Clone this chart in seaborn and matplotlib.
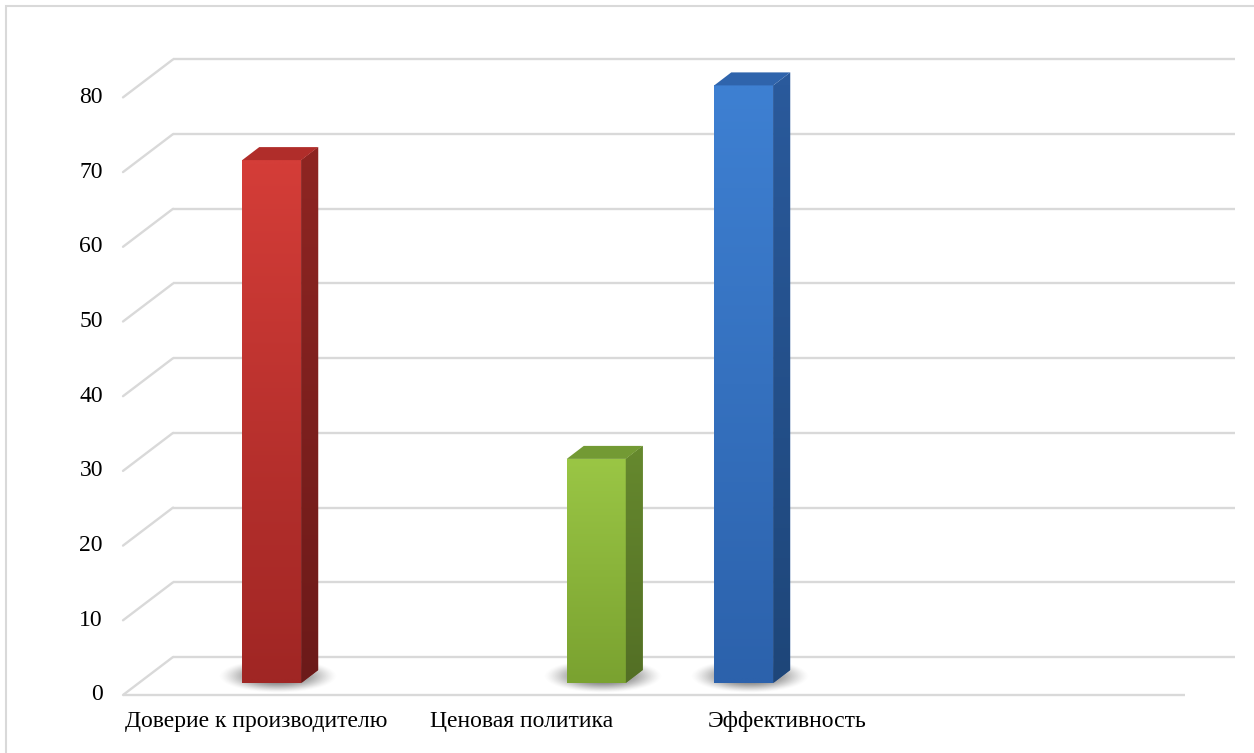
import numpy as np
import pandas as pd
import matplotlib
matplotlib.use("Agg")
import matplotlib.pyplot as plt
import seaborn as sns
from matplotlib.patches import Polygon, Rectangle
from matplotlib.colors import to_rgb

# ---- data -------------------------------------------------------------
categories = ["Доверие к производителю", "Ценовая политика", "Эффективность", ""]
series = ["Ряд 1", "Ряд 2", "Ряд 3"]
bar_category = ["Доверие к производителю", "Ценовая политика", "Эффективность"]
bar_series = ["Ряд 2", "Ряд 3", "Ряд 1"]
bar_values = [70, 30, 80]
y_ticks = [0, 10, 20, 30, 40, 50, 60, 70, 80]

# ---- colours per series (front mid, front top/bottom, side top/bottom, top face)
front_mid = {"Ряд 1": "#3570BE", "Ряд 2": "#BD3230", "Ряд 3": "#8BB63B"}
front_top = {"Ряд 1": "#3E80D2", "Ряд 2": "#D43D38", "Ряд 3": "#9AC645"}
front_bot = {"Ряд 1": "#2C62AC", "Ряд 2": "#A02624", "Ряд 3": "#7AA230"}
side_top = {"Ряд 1": "#2A5A9C", "Ряд 2": "#8E2522", "Ряд 3": "#66892E"}
side_bot = {"Ряд 1": "#1E4679", "Ряд 2": "#6C1A19", "Ряд 3": "#536F25"}
top_face = {"Ряд 1": "#2F64AC", "Ряд 2": "#B02D2A", "Ряд 3": "#739A34"}
GRID = "#D9D9D9"

sns.set_theme(style="white")
plt.rcParams["font.family"] = ["Liberation Serif", "DejaVu Serif"]
FS = 17

W, H = 1254, 753
fig = plt.figure(figsize=(W / 100, H / 100), dpi=100)
fig.patch.set_facecolor("white")

# axes = plane of the bar front faces
x0_px, x1_px = 139, 1201
y0_px, ytop_px = 683, 85.4
ax = fig.add_axes([x0_px / W, 1 - y0_px / H, (x1_px - x0_px) / W, (y0_px - ytop_px) / H])

df = pd.DataFrame({"category": bar_category, "series": bar_series, "value": bar_values})
sns.barplot(data=df, x="category", y="value", hue="series", order=categories,
            hue_order=series, palette=front_mid, width=2 / 3, dodge=True,
            saturation=1, legend=False, ax=ax, zorder=3, linewidth=0)

XL, YL = (-0.5, 3.5), (0, 80)
ax.set_xlim(*XL)
ax.set_ylim(*YL)
ax.axis("off")

# pixel -> data conversion
sx = (XL[1] - XL[0]) / (x1_px - x0_px)
sy = (YL[1] - YL[0]) / (y0_px - ytop_px)


def off(p):
    return p[0] * sx, p[1] * sy


FRONT = off((-16, -12))   # floor front edge relative to bar plane
BACK = off((34, 26))      # back wall relative to bar plane
DEPTH = off((17, 13))     # bar depth

# ---- walls, floor and value labels -----------------------------------
lw = 1.7
for v in y_ticks:
    ax.plot([XL[0] + BACK[0], XL[1] + BACK[0]], [v + BACK[1]] * 2,
            color=GRID, lw=lw, clip_on=False, zorder=1, solid_capstyle="butt")
    ax.plot([XL[0] + FRONT[0], XL[0] + BACK[0]], [v + FRONT[1], v + BACK[1]],
            color=GRID, lw=lw, clip_on=False, zorder=1)
    ax.text(XL[0] + FRONT[0] - 20 * sx, v + FRONT[1], str(v), ha="right",
            va="center", fontsize=FS, color="black", clip_on=False)
ax.plot([XL[0] + FRONT[0], XL[1] + FRONT[0]], [FRONT[1]] * 2,
        color=GRID, lw=lw, clip_on=False, zorder=1, solid_capstyle="butt")

for i, name in enumerate(categories):
    if name:
        ax.text(i + FRONT[0], FRONT[1] - 27 * sy, name, ha="center", va="center",
                fontsize=FS, color="black", clip_on=False)


def vgrad(c_top, c_bot, n=64):
    a, b = np.array(to_rgb(c_top)), np.array(to_rgb(c_bot))
    t = np.linspace(0, 1, n)[:, None]
    return (a * (1 - t) + b * t)[:, None, :]


# ---- 3-D bar faces ----------------------------------------------------
lookup = {tuple(np.round(to_rgb(c), 3)): s for s, c in front_mid.items()}
dx, dy = DEPTH
for p in list(ax.patches):
    h = p.get_height()
    if not np.isfinite(h) or h <= 0:
        continue
    s = lookup[tuple(np.round(p.get_facecolor()[:3], 3))]
    x, w = p.get_x(), p.get_width()

    # soft floor shadow
    n = 160
    u = np.linspace(-1, 1, n)
    U, V = np.meshgrid(u, u)
    r2 = U ** 2 + V ** 2
    alpha = 0.85 * np.clip(1 - r2, 0, 1) ** 1.6
    img = np.zeros((n, n, 4))
    img[..., :3] = 0.30
    img[..., 3] = alpha
    cx, cy = x + w / 2 + dx / 2 - 2 * sx, dy / 2
    hw, hh = 60 * sx, 17 * sy
    ax.imshow(img, extent=[cx - hw, cx + hw, cy - hh, cy + hh], aspect="auto",
              zorder=2, interpolation="bilinear", clip_on=False)

    # front face gradient
    im = ax.imshow(vgrad(front_top[s], front_bot[s]), extent=[x, x + w, 0, h],
                   aspect="auto", zorder=3.1, interpolation="bilinear")
    im.set_clip_path(p)

    # side face
    side = Polygon([(x + w, 0), (x + w + dx, dy), (x + w + dx, h + dy), (x + w, h)],
                   closed=True, facecolor=side_top[s], lw=0, zorder=3.2, clip_on=False)
    ax.add_patch(side)
    im2 = ax.imshow(vgrad(side_top[s], side_bot[s]), extent=[x + w, x + w + dx, 0, h + dy],
                    aspect="auto", zorder=3.3, interpolation="bilinear")
    im2.set_clip_path(side)

    # top face
    ax.add_patch(Polygon([(x, h), (x + w, h), (x + w + dx, h + dy), (x + dx, h + dy)],
                         closed=True, facecolor=top_face[s], lw=0, zorder=3.4,
                         clip_on=False))

ax.set_xlim(*XL)
ax.set_ylim(*YL)

# outer chart border
fig.patches.append(Rectangle((6 / W, -0.05), 1.5, 1 - 6 / H + 0.05,
                             transform=fig.transFigure, fill=False,
                             ec=GRID, lw=1.5))

fig.savefig("out.png", dpi=100, facecolor="white")
